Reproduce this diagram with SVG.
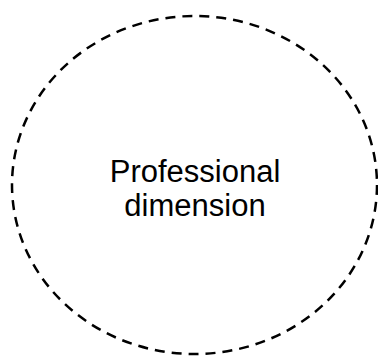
<svg xmlns="http://www.w3.org/2000/svg" width="378" height="356" viewBox="0 0 378 356">
<style>
.shape{fill:#ffffff;stroke:#000000;stroke-width:2.5;stroke-dasharray:10 7}
.label{font-family:"Liberation Sans",Arial,sans-serif;font-size:31px;fill:#000000;text-anchor:middle}
</style>
<rect width="378" height="356" fill="#ffffff"/>
<g id="professional-dimension">
<ellipse class="shape" cx="194.5" cy="185" rx="182.5" ry="169"/>
<text class="label" x="195" y="182">Professional</text>
<text class="label" x="195" y="216">dimension</text>
</g>
<g id="connectors"/>
</svg>
